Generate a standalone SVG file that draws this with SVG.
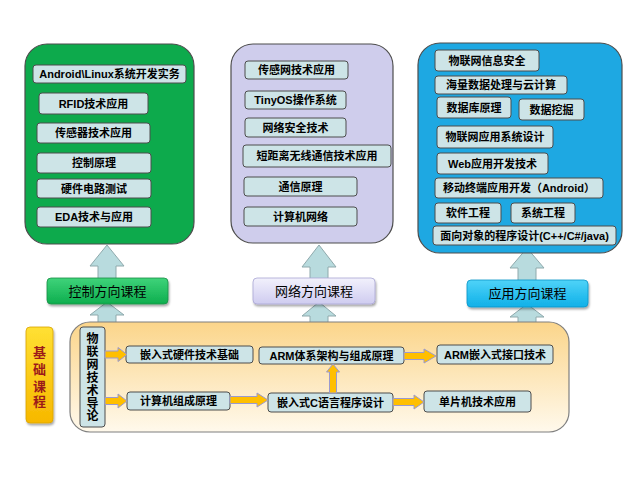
<svg xmlns="http://www.w3.org/2000/svg" width="640" height="480" viewBox="0 0 640 480">
<defs>
<style>
.t{font-family:"Liberation Sans","Noto Sans CJK SC",sans-serif;font-size:11px;font-weight:bold;fill:#000;text-anchor:middle;dominant-baseline:central}
.c{font-family:"Liberation Sans","Noto Sans CJK SC",sans-serif;font-size:13px;fill:#000;text-anchor:middle;dominant-baseline:central}
.b{fill:#CDE4E7;stroke:#4d4d4d;stroke-width:1}
.pan{stroke:#4d4d4d;stroke-width:1.2}
.ba{fill:#B8DBDE;stroke:#8FA9AC;stroke-width:1}
.oa{fill:#FFBF00;stroke:#9A9AD0;stroke-width:1}
</style>
<linearGradient id="gOr" x1="0" y1="0" x2="0" y2="1">
<stop offset="0" stop-color="#FBD58A"/><stop offset="1" stop-color="#FFF9EC"/>
</linearGradient>
<linearGradient id="gYe" x1="0" y1="0" x2="0" y2="1">
<stop offset="0" stop-color="#FFE033"/><stop offset="1" stop-color="#F7B800"/>
</linearGradient>
<linearGradient id="gGr" x1="0" y1="0" x2="0" y2="1">
<stop offset="0" stop-color="#3FD37A"/><stop offset="1" stop-color="#0DAE4E"/>
</linearGradient>
<linearGradient id="gLa" x1="0" y1="0" x2="0" y2="1">
<stop offset="0" stop-color="#F2F1FC"/><stop offset="1" stop-color="#CFCCF0"/>
</linearGradient>
<linearGradient id="gCy" x1="0" y1="0" x2="0" y2="1">
<stop offset="0" stop-color="#4FD3F8"/><stop offset="1" stop-color="#0FB0E8"/>
</linearGradient>
<filter id="sh" x="-10%" y="-20%" width="130%" height="150%">
<feDropShadow dx="1" dy="2" stdDeviation="1.2" flood-color="#000" flood-opacity="0.35"/>
</filter>
</defs>
<rect width="640" height="480" fill="#fff"/>

<g id="connectors">
<path class="ba" d="M107,245 L124,266 L116,266 L116,279 L98,279 L98,266 L90,266 Z"/>
<path class="ba" d="M107,302 L124,315 L116,315 L116,324 L98,324 L98,315 L90,315 Z"/>
<path class="ba" d="M319,245 L336,267 L328,267 L328,279 L310,279 L310,267 L302,267 Z"/>
<path class="ba" d="M319,302 L336,316 L328,316 L328,324 L310,324 L310,316 L302,316 Z"/>
<path class="ba" d="M527,248 L544,268 L536,268 L536,281 L518,281 L518,268 L510,268 Z"/>
<path class="ba" d="M527,304 L544,317 L536,317 L536,324 L518,324 L518,317 L510,317 Z"/>
</g>

<g id="panel-control">
<rect class="pan" x="25" y="44" width="169" height="200" rx="22" fill="#0DAA4C"/>
<rect class="b" x="33" y="65" width="153" height="18" rx="3"/><text class="t" x="109.5" y="74">Android\Linux系统开发实务</text>
<rect class="b" x="39" y="93" width="109" height="21" rx="3"/><text class="t" x="93.5" y="103.5">RFID技术应用</text>
<rect class="b" x="37" y="123" width="113" height="20" rx="3"/><text class="t" x="93.5" y="133">传感器技术应用</text>
<rect class="b" x="37" y="153" width="114" height="20" rx="3"/><text class="t" x="94" y="163">控制原理</text>
<rect class="b" x="37" y="179" width="114" height="19" rx="3"/><text class="t" x="94" y="188.5">硬件电路测试</text>
<rect class="b" x="37" y="207" width="114" height="20" rx="3"/><text class="t" x="94" y="217">EDA技术与应用</text>
</g>

<g id="panel-network">
<rect class="pan" x="231" y="44" width="162" height="199" rx="22" fill="#CFCDEC"/>
<rect class="b" x="245" y="61" width="103" height="18" rx="3"/><text class="t" x="296.5" y="70">传感网技术应用</text>
<rect class="b" x="245" y="91" width="101" height="18" rx="3"/><text class="t" x="295.5" y="100">TinyOS操作系统</text>
<rect class="b" x="245" y="118" width="101" height="19" rx="3"/><text class="t" x="295.5" y="127.5">网络安全技术</text>
<rect class="b" x="243" y="145" width="148" height="22" rx="3"/><text class="t" x="317" y="156">短距离无线通信技术应用</text>
<rect class="b" x="244" y="177" width="113" height="19" rx="3"/><text class="t" x="300.5" y="186.5">通信原理</text>
<rect class="b" x="244" y="207" width="113" height="19" rx="3"/><text class="t" x="300.5" y="216.5">计算机网络</text>
</g>

<g id="panel-application">
<rect class="pan" x="418" y="43" width="204" height="210" rx="22" fill="#1EA8E2"/>
<rect class="b" x="435" y="50" width="104" height="21" rx="3"/><text class="t" x="487" y="60.5">物联网信息安全</text>
<rect class="b" x="435" y="76" width="132" height="18" rx="3"/><text class="t" x="501" y="85">海量数据处理与云计算</text>
<rect class="b" x="437" y="97" width="74" height="21" rx="3"/><text class="t" x="474" y="107.5">数据库原理</text>
<rect class="b" x="519" y="99" width="65" height="21" rx="3"/><text class="t" x="551.5" y="109.5">数据挖掘</text>
<rect class="b" x="437" y="126" width="116" height="22" rx="3"/><text class="t" x="495" y="137">物联网应用系统设计</text>
<rect class="b" x="437" y="153" width="111" height="21" rx="3"/><text class="t" x="492.5" y="163.5">Web应用开发技术</text>
<rect class="b" x="435" y="178" width="168" height="20" rx="3"/><text class="t" x="519" y="188">移动终端应用开发（Android）</text>
<rect class="b" x="435" y="203" width="66" height="20" rx="3"/><text class="t" x="468" y="213">软件工程</text>
<rect class="b" x="511" y="203" width="64" height="20" rx="3"/><text class="t" x="543" y="213">系统工程</text>
<rect class="b" x="433" y="226" width="183" height="19" rx="3"/><text class="t" x="524.5" y="235.5">面向对象的程序设计(C++/C#/java)</text>
</g>

<g id="track-control"><rect x="47" y="278" width="121" height="26" rx="4" fill="url(#gGr)" stroke="#1a8f48" stroke-width="0.8" filter="url(#sh)"/><text class="c" x="107.5" y="291">控制方向课程</text></g>
<g id="track-network"><rect x="253" y="278" width="122" height="26" rx="4" fill="url(#gLa)" stroke="#a9a6d4" stroke-width="0.8" filter="url(#sh)"/><text class="c" x="314" y="291">网络方向课程</text></g>
<g id="track-application"><rect x="467" y="280" width="121" height="27" rx="4" fill="url(#gCy)" stroke="#0b96c8" stroke-width="0.8" filter="url(#sh)"/><text class="c" x="527.5" y="293.5">应用方向课程</text></g>

<g id="basic-label">
<rect x="26" y="327" width="27" height="96" rx="4" fill="url(#gYe)" stroke="#d9a300" stroke-width="0.8" filter="url(#sh)"/>
<text class="c" x="39.5" y="352" style="fill:#9C1A1A;font-weight:bold">基</text>
<text class="c" x="39.5" y="369" style="fill:#9C1A1A;font-weight:bold">础</text>
<text class="c" x="39.5" y="386" style="fill:#9C1A1A;font-weight:bold">课</text>
<text class="c" x="39.5" y="401" style="fill:#9C1A1A;font-weight:bold">程</text>
</g>

<g id="basic-panel">
<rect x="70" y="322" width="499" height="110" rx="20" fill="url(#gOr)" stroke="#7f7f7f" stroke-width="1.2"/>
</g>

<g id="intro">
<rect class="b" x="80" y="327" width="25" height="100" rx="3"/>
<text class="c" style="font-size:12px;font-weight:bold" x="92.5" y="339">物</text>
<text class="c" style="font-size:12px;font-weight:bold" x="92.5" y="352">联</text>
<text class="c" style="font-size:12px;font-weight:bold" x="92.5" y="365">网</text>
<text class="c" style="font-size:12px;font-weight:bold" x="92.5" y="378">技</text>
<text class="c" style="font-size:12px;font-weight:bold" x="92.5" y="390.5">术</text>
<text class="c" style="font-size:12px;font-weight:bold" x="92.5" y="403.5">导</text>
<text class="c" style="font-size:12px;font-weight:bold" x="92.5" y="416">论</text>
</g>

<g id="n-hw"><rect class="b" x="126" y="346" width="127" height="17" rx="3"/><text class="t" x="189.5" y="354.5">嵌入式硬件技术基础</text></g>
<g id="n-arm"><rect class="b" x="259" y="347" width="145" height="17" rx="3"/><text class="t" x="331.5" y="355.5">ARM体系架构与组成原理</text></g>
<g id="n-armif"><rect class="b" x="437" y="345" width="116" height="19" rx="3"/><text class="t" x="495" y="354.5">ARM嵌入式接口技术</text></g>
<g id="n-comp"><rect class="b" x="127" y="392" width="103" height="18" rx="3"/><text class="t" x="178.5" y="401">计算机组成原理</text></g>
<g id="n-c"><rect class="b" x="268" y="393" width="125" height="19" rx="3"/><text class="t" x="330.5" y="402.5">嵌入式C语言程序设计</text></g>
<g id="n-mcu"><rect class="b" x="424" y="391" width="107" height="21" rx="3"/><text class="t" x="477.5" y="401.5">单片机技术应用</text></g>

<g id="flow-connectors">
<path class="oa" d="M105,351 L118,351 L118,347.5 L127,354.5 L118,361.5 L118,358 L105,358 Z"/>
<path class="oa" d="M105,397.5 L118,397.5 L118,394 L127,401 L118,408 L118,404.5 L105,404.5 Z"/>
<path class="oa" d="M230,396.5 L257,396.5 L257,393 L268,400 L257,407 L257,403.5 L230,403.5 Z"/>
<path class="oa" d="M404,352.5 L424,352.5 L424,349 L436,356 L424,363 L424,359.5 L404,359.5 Z"/>
<path class="oa" d="M393,398.5 L414,398.5 L414,395 L424,402 L414,409 L414,405.5 L393,405.5 Z"/>
<path class="oa" d="M329.5,393 L329.5,372 L326.5,372 L333,364 L339.5,372 L336.5,372 L336.5,393 Z"/>
</g>
</svg>
